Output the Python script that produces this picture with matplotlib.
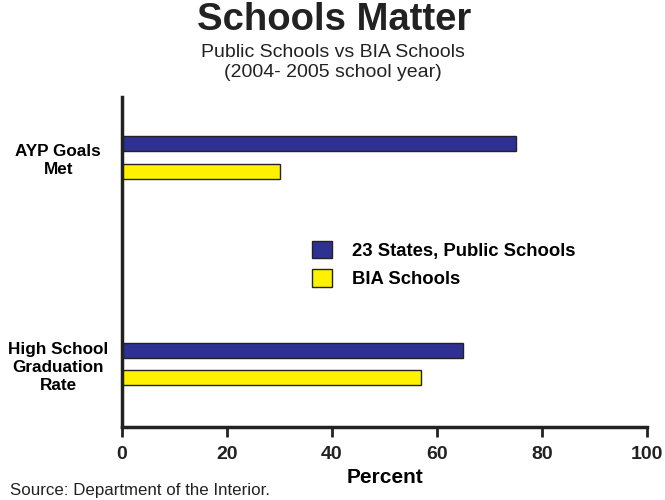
import matplotlib.pyplot as plt

plt.rcParams['font.family'] = ['Liberation Sans', 'DejaVu Sans']

# Data
categories = ["AYP Goals\nMet", "High School\nGraduation\nRate"]
public_schools = [75, 65]
bia_schools = [30, 57]
series_names = ["23 States, Public Schools", "BIA Schools"]
xticks = [0, 20, 40, 60, 80, 100]

navy = "#2E3192"
yellow = "#FFF200"

fig = plt.figure(figsize=(6.65, 5), dpi=100)
ax = fig.add_axes([0.1835, 0.146, 0.7895, 0.66])

pos = [1, 0]
h = 0.073
off = 0.066
ax.barh([p + off for p in pos], public_schools, height=h, color=navy,
        edgecolor="#222222", linewidth=1, label=series_names[0])
ax.barh([p - off for p in pos], bia_schools, height=h, color=yellow,
        edgecolor="#222222", linewidth=1, label=series_names[1])

ax.set_xlim(0, 100)
ax.set_ylim(-0.305, 1.293)
ax.set_xticks(xticks)
ax.set_xticklabels([str(t) for t in xticks], fontsize=14, fontweight="bold")
ax.set_yticks(pos)
ax.set_yticklabels(categories, fontsize=12.3, fontweight="bold", ha="center",
                   multialignment="center", linespacing=1.25)
ax.tick_params(axis="y", length=0, pad=46)
ax.tick_params(axis="x", length=7, width=2, direction="out", pad=7,
               colors="#222222")
for s in ["top", "right"]:
    ax.spines[s].set_visible(False)
for s in ["left", "bottom"]:
    ax.spines[s].set_linewidth(2.5)
    ax.spines[s].set_color("#222222")

ax.set_xlabel("Percent", fontsize=15, fontweight="bold", labelpad=3)

fig.text(0.503, 0.96, "Schools Matter", ha="center", va="center",
         fontsize=27.5, fontweight="bold", color="#222222")
fig.text(0.5, 0.875, "Public Schools vs BIA Schools\n(2004- 2005 school year)",
         ha="center", va="center", fontsize=14, color="#222222",
         linespacing=1.2)
fig.text(0.015, 0.018, "Source: Department of the Interior.", ha="left",
         va="center", fontsize=12.2, color="#222222")

leg = fig.legend(loc="upper left", bbox_to_anchor=(0.469, 0.518), frameon=False,
                 borderpad=0, borderaxespad=0, handlelength=1.08,
                 handleheight=1.08, handletextpad=1.1, labelspacing=0.5,
                 prop={"size": 13.3, "weight": "bold"})

plt.savefig("out.png", dpi=100)
